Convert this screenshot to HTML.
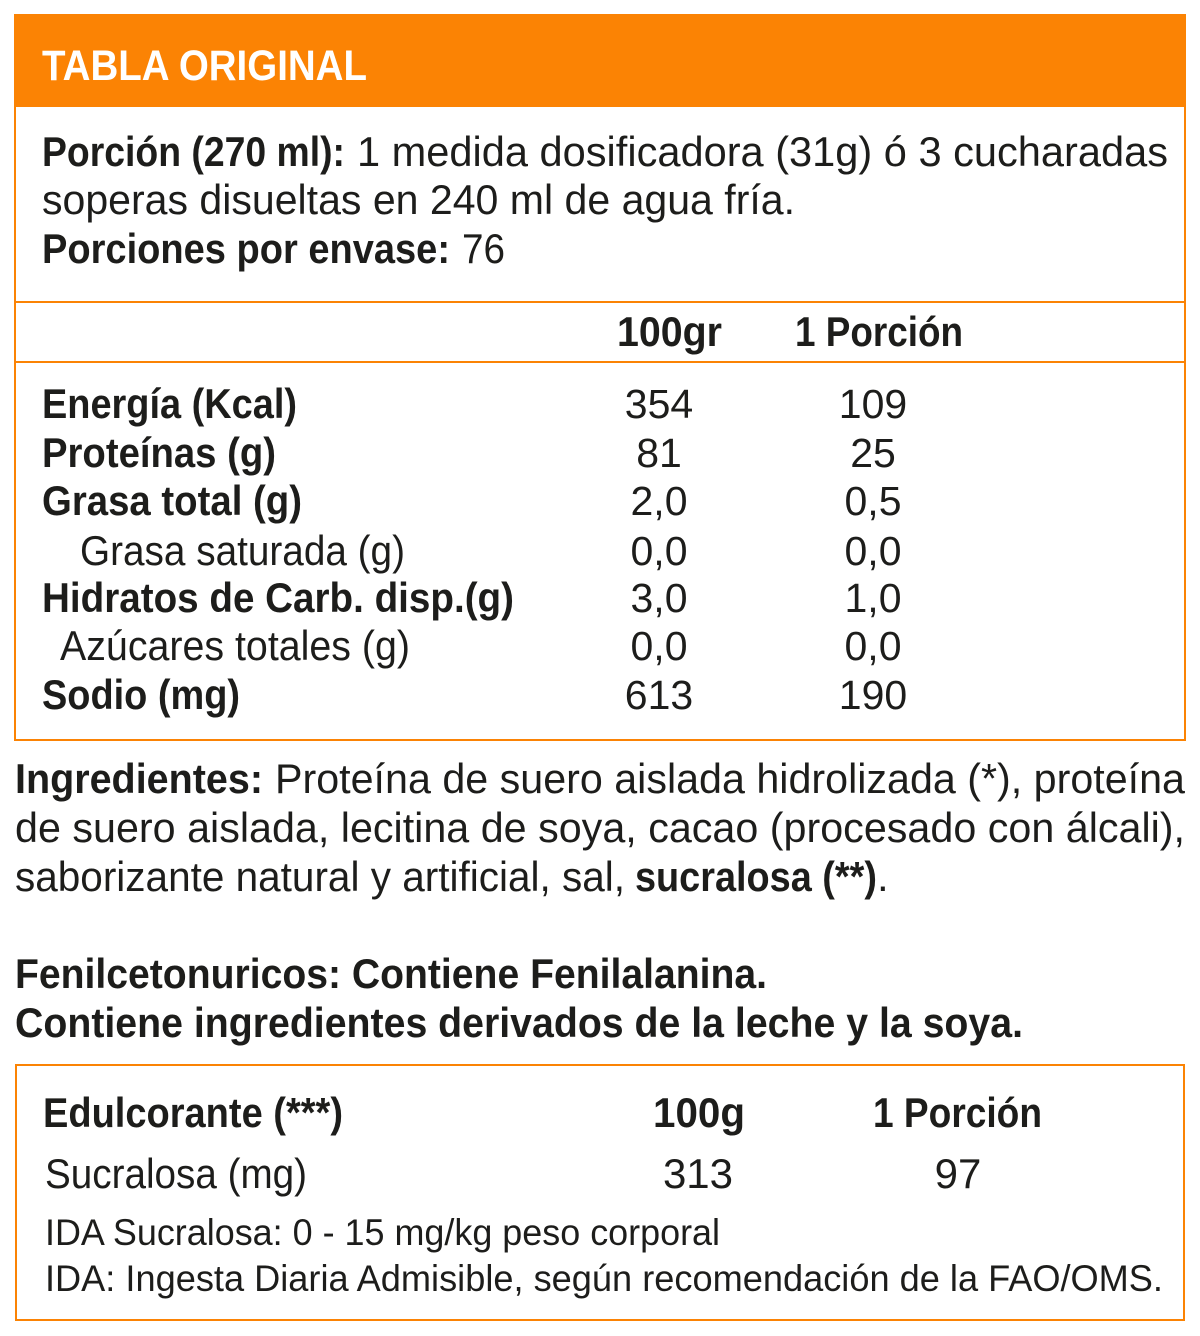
<!DOCTYPE html>
<html><head><meta charset="utf-8"><style>
html,body{margin:0;padding:0;background:#fff;}
svg{display:block;}
text{font-family:"Liberation Sans",sans-serif;fill:#1d1d1b;}
.b{font-weight:bold;}
</style></head><body>
<svg width="1200" height="1336" viewBox="0 0 1200 1336" xmlns="http://www.w3.org/2000/svg">
<rect x="15" y="15" width="1170" height="725" fill="none" stroke="#fb8304" stroke-width="2"/>
<rect x="14" y="14" width="1172" height="93" fill="#fb8304"/>
<text x="42" y="80" class="b" font-size="43" style="fill:#fff" textLength="325" lengthAdjust="spacingAndGlyphs">TABLA ORIGINAL</text>

<g font-size="42">
<text x="42" y="166" class="b" textLength="303" lengthAdjust="spacingAndGlyphs">Porción (270 ml):</text>
<text x="357" y="166" textLength="811" lengthAdjust="spacingAndGlyphs">1 medida dosificadora (31g) ó 3 cucharadas</text>
<text x="42" y="214" textLength="753" lengthAdjust="spacingAndGlyphs">soperas disueltas en 240 ml de agua fría.</text>
<text x="42" y="263" class="b" textLength="408" lengthAdjust="spacingAndGlyphs">Porciones por envase:</text>
<text x="462" y="263" textLength="43" lengthAdjust="spacingAndGlyphs">76</text>
</g>
<line x1="15" y1="302" x2="1185" y2="302" stroke="#fb8304" stroke-width="2"/>
<line x1="15" y1="362" x2="1185" y2="362" stroke="#fb8304" stroke-width="2"/>

<g font-size="42">
<text x="617" y="346" class="b" textLength="105" lengthAdjust="spacingAndGlyphs">100gr</text>
<text x="795" y="346" class="b" textLength="168" lengthAdjust="spacingAndGlyphs">1 Porción</text>

<text x="42" y="418" class="b" textLength="255" lengthAdjust="spacingAndGlyphs">Energía (Kcal)</text>
<text x="42" y="467" class="b" textLength="234" lengthAdjust="spacingAndGlyphs">Proteínas (g)</text>
<text x="42" y="515" class="b" textLength="260" lengthAdjust="spacingAndGlyphs">Grasa total (g)</text>
<text x="80" y="565" textLength="325" lengthAdjust="spacingAndGlyphs">Grasa saturada (g)</text>
<text x="42" y="612" class="b" textLength="472" lengthAdjust="spacingAndGlyphs">Hidratos de Carb. disp.(g)</text>
<text x="60" y="660" textLength="350" lengthAdjust="spacingAndGlyphs">Azúcares totales (g)</text>
<text x="42" y="709" class="b" textLength="198" lengthAdjust="spacingAndGlyphs">Sodio (mg)</text>
</g>
<g font-size="41" text-anchor="middle">
<text x="659" y="418">354</text><text x="873" y="418">109</text>
<text x="659" y="467">81</text><text x="873" y="467">25</text>
<text x="659" y="515">2,0</text><text x="873" y="515">0,5</text>
<text x="659" y="565">0,0</text><text x="873" y="565">0,0</text>
<text x="659" y="612">3,0</text><text x="873" y="612">1,0</text>
<text x="659" y="660">0,0</text><text x="873" y="660">0,0</text>
<text x="659" y="709">613</text><text x="873" y="709">190</text>
</g>

<g font-size="42">
<text x="15" y="793" class="b" textLength="248" lengthAdjust="spacingAndGlyphs">Ingredientes:</text>
<text x="275" y="793" textLength="910" lengthAdjust="spacingAndGlyphs">Proteína de suero aislada hidrolizada (*), proteína</text>
<text x="15" y="842" textLength="1170" lengthAdjust="spacingAndGlyphs">de suero aislada, lecitina de soya, cacao (procesado con álcali),</text>
<text x="15" y="891" textLength="610" lengthAdjust="spacingAndGlyphs">saborizante natural y artificial, sal,</text>
<text x="635" y="891" class="b" textLength="242" lengthAdjust="spacingAndGlyphs">sucralosa (**)</text>
<text x="877" y="891">.</text>
<text x="15" y="988" class="b" textLength="752" lengthAdjust="spacingAndGlyphs">Fenilcetonuricos: Contiene Fenilalanina.</text>
<text x="15" y="1037" class="b" textLength="1008" lengthAdjust="spacingAndGlyphs">Contiene ingredientes derivados de la leche y la soya.</text>
</g>

<rect x="16" y="1065" width="1168" height="255" fill="none" stroke="#fb8304" stroke-width="2"/>
<g font-size="42">
<text x="43" y="1127" class="b" textLength="300" lengthAdjust="spacingAndGlyphs">Edulcorante (***)</text>
<text x="653" y="1127" class="b" textLength="92" lengthAdjust="spacingAndGlyphs">100g</text>
<text x="873" y="1127" class="b" textLength="169" lengthAdjust="spacingAndGlyphs">1 Porción</text>
<text x="45" y="1188" textLength="262" lengthAdjust="spacingAndGlyphs">Sucralosa (mg)</text>
<text x="698" y="1188" text-anchor="middle">313</text>
<text x="958" y="1188" text-anchor="middle">97</text>
</g>
<g font-size="37">
<text x="45" y="1245" textLength="675" lengthAdjust="spacingAndGlyphs">IDA Sucralosa: 0 - 15 mg/kg peso corporal</text>
<text x="45" y="1291" textLength="1118" lengthAdjust="spacingAndGlyphs">IDA: Ingesta Diaria Admisible, según recomendación de la FAO/OMS.</text>
</g>
</svg>
</body></html>
